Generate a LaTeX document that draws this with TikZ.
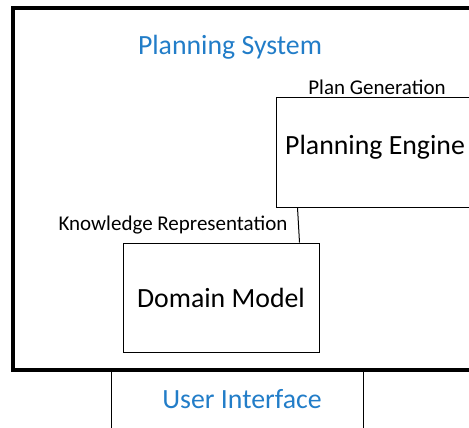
\documentclass[tikz,border=0pt]{standalone}
\usepackage{fontspec}
\setmainfont{Carlito}
\usetikzlibrary{calc}
\definecolor{titleblue}{RGB}{34,125,200}
\begin{document}
\begin{tikzpicture}[x=1pt,y=-1pt,
  big/.style={font=\fontsize{27.8}{30}\selectfont},
  small/.style={font=\fontsize{21}{23}\selectfont},
  block/.style={draw=black, line width=1pt, inner sep=0pt},
  frame/.style={draw=black, line width=3.5pt}]
\useasboundingbox (0,0) rectangle (469,428);
% outer system frame (continues past the right edge)
\draw[frame] (13,8) rectangle (520,370);
\node[big, text=titleblue] (title) at (230,47) {Planning System};
% planning engine (continues past the right edge)
\node[block, minimum width=214pt, minimum height=109pt] (pe) at (383,152.5) {};
\node[big, anchor=west, inner sep=0pt] (petext) at (285,147) {Planning Engine};
\node[small] (plangen) at (377,87) {Plan Generation};
% domain model
\node[block, big, minimum width=196pt, minimum height=109pt] (dm) at (221,297.5) {Domain Model};
\node[small] (kr) at (173,225) {Knowledge Representation};
\draw[line width=1pt] ($(pe.south west)+(22,0)$) -- ($(dm.north east)+(-20,0)$);
% user interface (continues past the bottom edge)
\draw[line width=1pt] (111,371) -- (111,440) -- (363,440) -- (363,371);
\node[big, text=titleblue] (ui) at (242,399) {User Interface};
\end{tikzpicture}
\end{document}
